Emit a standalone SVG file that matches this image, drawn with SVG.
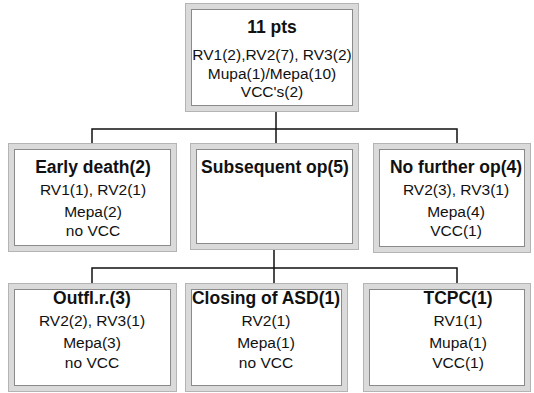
<svg xmlns="http://www.w3.org/2000/svg" width="534" height="393" viewBox="0 0 534 393">
<style>
.o{fill:#dadada;stroke:#b4b4b4;stroke-width:1}
.i{fill:#ffffff;stroke:#8a8a8a;stroke-width:1}
text{font-family:"Liberation Sans",Arial,sans-serif;fill:#111;text-anchor:middle}
.t{font-size:17.5px;font-weight:bold}
.l{font-size:15.5px}
.c{fill:none;stroke:#111;stroke-width:1.5}
</style>
<rect width="534" height="393" fill="#ffffff"/>
<g id="connectors">
<path class="c" d="M276 112V143M92 143V129H457V143"/>
<path class="c" d="M274 250V283M92 283V268H457V283"/>
</g>
<g id="root">
<rect class="o" x="185.5" y="3.5" width="173" height="108"/>
<rect class="i" x="191.5" y="9.5" width="161" height="96"/>
<text class="t" x="272" y="33">11 pts</text>
<text class="l" x="272" y="60">RV1(2),RV2(7), RV3(2)</text>
<text class="l" x="272" y="79">Mupa(1)/Mepa(10)</text>
<text class="l" x="272" y="97">VCC's(2)</text>
</g>
<g id="early">
<rect class="o" x="8.5" y="143.5" width="168" height="108"/>
<rect class="i" x="14.5" y="149.5" width="156" height="96"/>
<text class="t" x="93" y="173">Early death(2)</text>
<text class="l" x="93" y="195">RV1(1), RV2(1)</text>
<text class="l" x="93" y="217">Mepa(2)</text>
<text class="l" x="93" y="236">no VCC</text>
</g>
<g id="subsequent">
<rect class="o" x="190.5" y="143.5" width="168" height="106"/>
<rect class="i" x="196.5" y="149.5" width="156" height="94"/>
<text class="t" x="275" y="173">Subsequent op(5)</text>
</g>
<g id="nofurther">
<rect class="o" x="373.5" y="143.5" width="157" height="109"/>
<rect class="i" x="379.5" y="149.5" width="145" height="97"/>
<text class="t" x="456" y="173">No further op(4)</text>
<text class="l" x="456" y="195">RV2(3), RV3(1)</text>
<text class="l" x="456" y="217">Mepa(4)</text>
<text class="l" x="456" y="236">VCC(1)</text>
</g>
<g id="outfl">
<rect class="o" x="8.5" y="283.5" width="168" height="108"/>
<rect class="i" x="14.5" y="289.5" width="156" height="96"/>
<text class="t" x="92" y="304">Outfl.r.(3)</text>
<text class="l" x="92" y="326">RV2(2), RV3(1)</text>
<text class="l" x="92" y="348">Mepa(3)</text>
<text class="l" x="92" y="368">no VCC</text>
</g>
<g id="closing">
<rect class="o" x="185.5" y="283.5" width="162" height="108"/>
<rect class="i" x="191.5" y="289.5" width="150" height="96"/>
<text class="t" x="266" y="304">Closing of ASD(1)</text>
<text class="l" x="266" y="326">RV2(1)</text>
<text class="l" x="266" y="348">Mepa(1)</text>
<text class="l" x="266" y="368">no VCC</text>
</g>
<g id="tcpc">
<rect class="o" x="363.5" y="283.5" width="167" height="108"/>
<rect class="i" x="369.5" y="289.5" width="155" height="96"/>
<text class="t" x="458" y="304">TCPC(1)</text>
<text class="l" x="458" y="326">RV1(1)</text>
<text class="l" x="458" y="348">Mupa(1)</text>
<text class="l" x="458" y="368">VCC(1)</text>
</g>
</svg>
